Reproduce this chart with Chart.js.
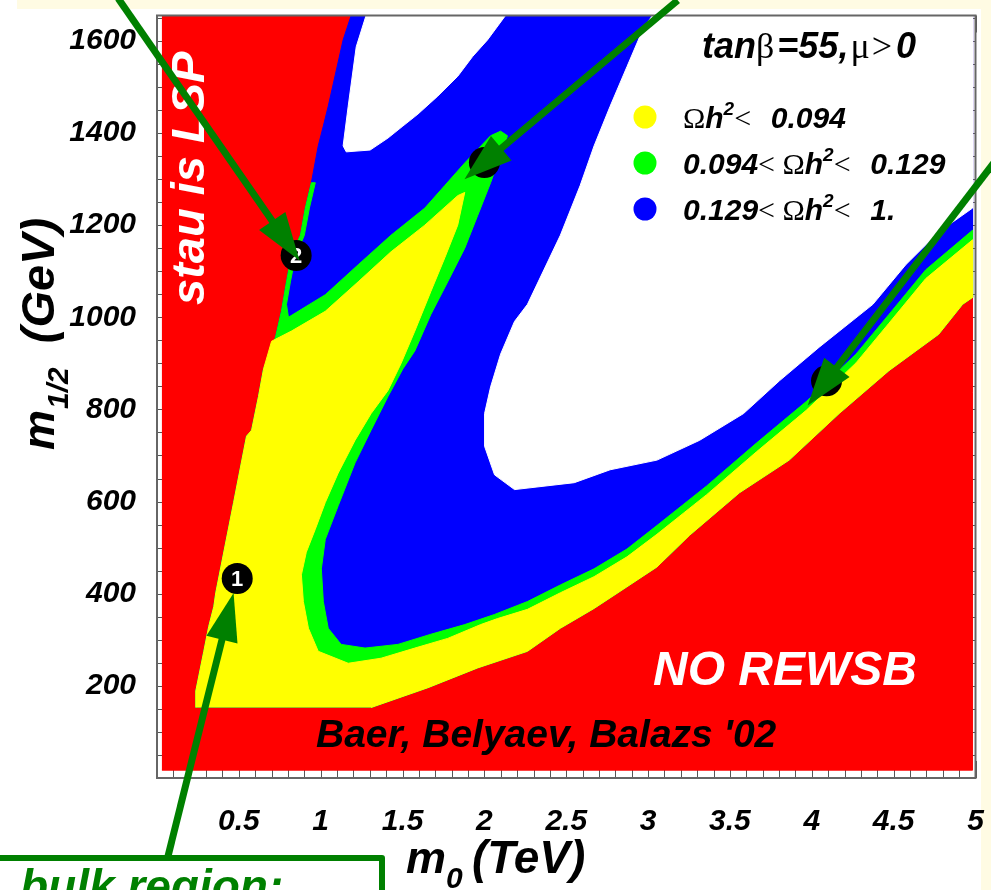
<!DOCTYPE html>
<html>
<head>
<meta charset="utf-8">
<script src="https://cdn.jsdelivr.net/npm/chart.js@4.4.1/dist/chart.umd.min.js"></script>
<style>
  html, body { margin: 0; padding: 0; background: #ffffff; }
  #wrap { width: 991px; height: 890px; position: relative; }
  canvas { display: block; }
</style>
</head>
<body>
<div id="wrap"><canvas id="chart" width="991" height="890"></canvas></div>
<script>
// ---- axes -------------------------------------------------------------
const m0Range = [0, 5];          // TeV
const m12Range = [0, 1655];      // GeV
const m0Ticks = [0.5, 1, 1.5, 2, 2.5, 3, 3.5, 4, 4.5, 5];
const m0TickLabels = ['0.5', '1', '1.5', '2', '2.5', '3', '3.5', '4', '4.5', '5'];
const m12Ticks = [200, 400, 600, 800, 1000, 1200, 1400, 1600];
const m12TickLabels = ['200', '400', '600', '800', '1000', '1200', '1400', '1600'];
const m0MinorStep = 0.1;
const m12MinorStep = 50;

// ---- scanned plane (excluded points shown red) ------------------------
const scanM0 = [0.03, 4.982];
const scanM12 = [17, 1655];

// stau-LSP boundary, bottom to top  [m0 (TeV), m1/2 (GeV)]
const stauEdge = [
  [0.237, 153], [0.237, 189], [0.286, 275], [0.316, 329], [0.347, 372], [0.359, 402],
  [0.468, 598], [0.547, 742], [0.578, 755], [0.620, 828], [0.651, 888], [0.724, 957],
  [0.760, 1013], [0.791, 1077], [0.821, 1135], [0.876, 1178], [0.906, 1237], [0.943, 1292],
  [0.985, 1372], [1.016, 1415], [1.046, 1458], [1.137, 1602], [1.186, 1655]
];

// no-REWSB boundary, from the right edge down to the bottom-left
const rewsbEdge = [
  [4.982, 1043], [4.921, 1028], [4.775, 963], [4.471, 884], [4.167, 791], [3.862, 690],
  [3.558, 619], [3.254, 527], [3.054, 458], [2.871, 415], [2.670, 368], [2.464, 325],
  [2.263, 275], [1.959, 239], [1.655, 196], [1.308, 153]
];

// Omega h^2 > 1 : narrow wedge near the top
const overOneWedge = [
  [1.277, 1655], [1.217, 1587], [1.168, 1458], [1.137, 1372], [1.156, 1359], [1.302, 1363],
  [1.411, 1389], [1.502, 1415], [1.594, 1441], [1.715, 1480], [1.837, 1523], [1.928, 1566],
  [2.019, 1602], [2.129, 1655]
];

// Omega h^2 > 1 : large region
const overOneMain = [
  [3.023, 1655], [4.982, 1655], [4.982, 1237], [4.775, 1185], [4.574, 1114], [4.373, 1028],
  [4.045, 935], [3.802, 862], [3.583, 791], [3.315, 733], [3.054, 690], [2.768, 669],
  [2.549, 641], [2.184, 626], [2.062, 658], [2.001, 720], [2.001, 791], [2.038, 849],
  [2.099, 920], [2.184, 991], [2.263, 1028], [2.464, 1178], [2.585, 1286], [2.670, 1372],
  [2.768, 1458], [2.871, 1544], [2.974, 1630]
];

// Omega h^2 = 0.129 contour (after a thin strip along the stau edge)
const contour129 = [
  [0.967, 1292], [0.931, 1237], [0.900, 1178], [0.845, 1131], [0.815, 1077], [0.791, 1028],
  [0.803, 1000], [1.028, 1049], [1.229, 1114], [1.429, 1178], [1.636, 1237], [1.758, 1286],
  [1.880, 1335], [2.038, 1394], [2.099, 1404], [2.141, 1394], [2.038, 1292], [1.959, 1221],
  [1.880, 1150], [1.776, 1077], [1.673, 1006], [1.575, 927], [1.502, 888], [1.411, 828],
  [1.308, 755], [1.210, 684], [1.107, 591], [1.028, 518], [1.004, 454], [1.016, 383],
  [1.046, 325], [1.125, 290], [1.271, 282], [1.472, 290], [1.673, 312], [1.880, 333],
  [2.062, 355], [2.263, 383], [2.464, 419], [2.670, 454], [2.871, 497], [3.054, 548],
  [3.358, 634], [3.662, 727], [3.966, 817], [4.270, 920], [4.471, 1006], [4.696, 1103],
  [4.982, 1189]
];

// Omega h^2 = 0.094 contour
const contour094 = [
  [0.700, 948], [0.821, 970], [1.028, 1013], [1.229, 1077], [1.429, 1142], [1.636, 1200],
  [1.837, 1264], [1.880, 1271], [1.837, 1200], [1.758, 1129], [1.673, 1056], [1.575, 970],
  [1.490, 899], [1.411, 841], [1.308, 791], [1.210, 733], [1.107, 662], [1.028, 598],
  [0.967, 540], [0.912, 490], [0.882, 441], [0.894, 383], [0.925, 325], [0.985, 275],
  [1.168, 249], [1.369, 260], [1.575, 282], [1.776, 303], [1.977, 333], [2.080, 346],
  [2.263, 366], [2.464, 402], [2.670, 437], [2.871, 480], [3.054, 529], [3.358, 615],
  [3.662, 708], [3.966, 798], [4.270, 901], [4.471, 987], [4.696, 1084], [4.982, 1168]
];

// benchmark points
const benchM0 = [0.49, 0.85, 2.0, 4.09];
const benchM12 = [433, 1134, 1336, 862];
const benchLabels = ['1', '2', '3', '4'];

// region legend
const legendColors = ['#ffff00', '#00ff00', '#0000ff'];
const legendLow = [null, '0.094', '0.129'];
const legendHigh = ['0.094', '0.129', '1.'];

// pointer arrows: tail in (m0, m1/2), aimed at a benchmark point
const arrowTails = [[0.067, -170], [-0.237, 1692], [3.181, 1688], [5.189, 1371]];
const arrowTargets = [0, 1, 2, 3];

// ---- styling ----------------------------------------------------------
const SANS = '"Liberation Sans", Arial, Helvetica, sans-serif';
const SERIF = '"Liberation Serif", "DejaVu Serif", serif';
const ARROW_GREEN = 'rgb(0,128,0)';
const CREAM = '#fffbe3';
const arrowOvershoot = [-15, 6, 26, 31];

function pts(list) { return list.map(p => ({ x: p[0], y: p[1] })); }
function region(label, list, color, order) {
  return {
    label, data: pts(list), showLine: true, fill: 'shape',
    backgroundColor: color, borderColor: color, borderWidth: 1,
    pointRadius: 0, pointHoverRadius: 0, tension: 0, order
  };
}

const redPoly = [[scanM0[0], scanM12[0]], [scanM0[1], scanM12[0]], [scanM0[1], scanM12[1]], [scanM0[0], scanM12[1]]];
const bluePoly = [...stauEdge, [scanM0[1], scanM12[1]], ...rewsbEdge];
const greenPoly = [...stauEdge.filter(p => p[1] <= 1292), ...contour129, ...rewsbEdge];
const yellowPoly = [...stauEdge.filter(p => p[1] <= 890), ...contour094, ...rewsbEdge];

// mixed-font text: parts = [{t, r (upright symbol font), sup, gap}]
function rich(ctx, x, y, parts, size) {
  let cx = x;
  for (const p of parts) {
    const s = p.sup ? Math.round(size * 0.62) : size;
    ctx.font = p.r ? `${s}px ${SERIF}` : `italic bold ${s}px ${SANS}`;
    ctx.fillText(p.t, cx, y + (p.sup ? -size * 0.42 : 0));
    cx += ctx.measureText(p.t).width + (p.gap || 0);
  }
  return cx;
}

const background = {
  id: 'background',
  beforeDraw(chart) {
    const ctx = chart.ctx;
    ctx.save();
    ctx.fillStyle = '#ffffff';
    ctx.fillRect(0, 0, chart.width, chart.height);
    ctx.fillStyle = CREAM;
    ctx.fillRect(17, 0, chart.width - 17, 9);
    ctx.fillRect(981, 0, chart.width - 981, chart.height);
    ctx.restore();
  }
};

// inward tick marks on all four sides (the regions are painted over them)
const frameTicks = {
  id: 'frameTicks',
  beforeDatasetsDraw(chart) {
    const { ctx, chartArea: a, scales: { x, y } } = chart;
    ctx.save();
    ctx.strokeStyle = '#555';
    ctx.lineWidth = 1;
    ctx.beginPath();
    const nx = Math.round((m0Range[1] - m0Range[0]) / m0MinorStep);
    for (let i = 0; i <= nx; i++) {
      const v = m0Range[0] + i * m0MinorStep;
      const major = i % 5 === 0;
      const px = Math.round(x.getPixelForValue(v)) + 0.5;
      const len = major ? 17 : 8;
      ctx.moveTo(px, a.top); ctx.lineTo(px, a.top + len);
      ctx.moveTo(px, a.bottom); ctx.lineTo(px, a.bottom - len);
    }
    const ny = Math.floor((m12Range[1] - m12Range[0]) / m12MinorStep);
    for (let i = 0; i <= ny; i++) {
      const v = m12Range[0] + i * m12MinorStep;
      const major = i % 4 === 0;
      const py = Math.round(y.getPixelForValue(v)) + 0.5;
      const len = major ? 16 : 8;
      ctx.moveTo(a.left, py); ctx.lineTo(a.left + len, py);
      ctx.moveTo(a.right, py); ctx.lineTo(a.right - len, py);
    }
    ctx.stroke();
    ctx.restore();
  }
};

const annotations = {
  id: 'annotations',
  afterDatasetsDraw(chart) {
    const { ctx, chartArea: a } = chart;
    ctx.save();
    // frame
    ctx.strokeStyle = '#666';
    ctx.lineWidth = 2;
    ctx.strokeRect(a.left, a.top, a.right - a.left, a.bottom - a.top);

    // numbers on the benchmark markers
    const meta = chart.getDatasetMeta(chart.data.datasets.length - 1);
    ctx.fillStyle = '#fff';
    ctx.textAlign = 'center';
    ctx.textBaseline = 'middle';
    ctx.font = `bold 22px ${SANS}`;
    meta.data.forEach((pt, i) => ctx.fillText(benchLabels[i], pt.x, pt.y + 1));

    ctx.textAlign = 'left';
    ctx.textBaseline = 'alphabetic';
    ctx.fillStyle = '#000';
    // tan(beta), mu
    rich(ctx, 702, 58, [
      { t: 'tan' }, { t: 'β', r: 1, gap: 3 }, { t: '=55,', gap: 2 },
      { t: 'μ', r: 1, gap: 2 }, { t: '>', r: 1, gap: 4 }, { t: '0' }
    ], 36);

    // legend
    const rows = [117, 163, 209];
    rows.forEach((ry, i) => {
      ctx.fillStyle = legendColors[i];
      ctx.beginPath();
      ctx.arc(645, ry, 11.5, 0, Math.PI * 2);
      ctx.fill();
      ctx.fillStyle = '#000';
      const parts = [];
      if (legendLow[i]) parts.push({ t: legendLow[i] }, { t: '<', r: 1 }, { t: ' Ω', r: 1 });
      else parts.push({ t: 'Ω', r: 1 });
      parts.push({ t: 'h' }, { t: '2', sup: 1 }, { t: '<', r: 1, gap: 3 }, { t: '  ' + legendHigh[i] });
      rich(ctx, 683, ry + 11, parts, 30);
    });

    // region labels
    ctx.fillStyle = '#fff';
    ctx.font = `italic bold 47px ${SANS}`;
    ctx.save();
    ctx.translate(204, 305);
    ctx.rotate(-Math.PI / 2);
    ctx.fillText('stau is LSP', 0, 0);
    ctx.restore();
    ctx.font = `italic bold 48px ${SANS}`;
    ctx.fillText('NO REWSB', 653, 685);
    ctx.fillStyle = '#000';
    ctx.font = `italic bold 39px ${SANS}`;
    ctx.fillText("Baer, Belyaev, Balazs '02", 316, 747);

    // axis titles
    ctx.font = `italic bold 45px ${SANS}`;
    ctx.fillText('m', 406, 873);
    let w = ctx.measureText('m').width;
    ctx.font = `italic bold 30px ${SANS}`;
    ctx.fillText('0', 406 + w, 888);
    ctx.font = `italic bold 46px ${SANS}`;
    ctx.fillText('(TeV)', 472, 873);

    ctx.save();
    ctx.translate(54, 450);
    ctx.rotate(-Math.PI / 2);
    ctx.font = `italic bold 45px ${SANS}`;
    ctx.fillText('m', 0, 0);
    w = ctx.measureText('m').width;
    ctx.font = `italic bold 30px ${SANS}`;
    ctx.fillText('1/2', w + 1, 14);
    const w2 = ctx.measureText('1/2').width;
    ctx.font = `italic bold 47px ${SANS}`;
    ctx.fillText(' (GeV)', w + w2 + 12, 0);
    ctx.restore();
    ctx.restore();
  },
  afterDraw(chart) {
    const { ctx, scales: { x, y } } = chart;
    ctx.save();
    ctx.fillStyle = ARROW_GREEN;
    ctx.strokeStyle = ARROW_GREEN;
    arrowTails.forEach((tail, i) => {
      const k = arrowTargets[i];
      const x0 = x.getPixelForValue(tail[0]), y0 = y.getPixelForValue(tail[1]);
      const cx = x.getPixelForValue(benchM0[k]), cy = y.getPixelForValue(benchM12[k]);
      const L = Math.hypot(cx - x0, cy - y0);
      const ux = (cx - x0) / L, uy = (cy - y0) / L;
      const x1 = cx + ux * arrowOvershoot[i], y1 = cy + uy * arrowOvershoot[i];
      const hl = 48, hw = 16;
      const bx = x1 - ux * hl, by = y1 - uy * hl;
      ctx.lineWidth = 7;
      ctx.beginPath();
      ctx.moveTo(x0, y0);
      ctx.lineTo(bx + ux * 4, by + uy * 4);
      ctx.stroke();
      ctx.beginPath();
      ctx.moveTo(x1, y1);
      ctx.lineTo(bx - uy * hw, by + ux * hw);
      ctx.lineTo(bx + uy * hw, by - ux * hw);
      ctx.closePath();
      ctx.fill();
    });
    // caption box
    ctx.lineWidth = 6;
    ctx.lineJoin = 'round';
    ctx.beginPath();
    ctx.moveTo(-10, 858);
    ctx.lineTo(382, 858);
    ctx.lineTo(382, 900);
    ctx.stroke();
    ctx.font = `italic bold 46px ${SANS}`;
    ctx.fillText('bulk region:', 20, 902);
    ctx.restore();
  }
};

const tickFont = { family: SANS, size: 30, style: 'italic', weight: 'bold' };

new Chart(document.getElementById('chart'), {
  type: 'scatter',
  data: {
    datasets: [
      region('Ωh² < 0.094', yellowPoly, '#ffff00', 1),
      region('0.094 < Ωh² < 0.129', greenPoly, '#00ff00', 2),
      region('Ωh² > 1', overOneMain, '#ffffff', 3),
      region('Ωh² > 1 (wedge)', overOneWedge, '#ffffff', 4),
      region('0.129 < Ωh² < 1', bluePoly, '#0000ff', 5),
      region('excluded', redPoly, '#ff0000', 6),
      {
        label: 'benchmarks',
        data: benchM0.map((m0, i) => ({ x: m0, y: benchM12[i] })),
        showLine: false, pointRadius: 15.5, pointHoverRadius: 15.5,
        pointBackgroundColor: '#000', pointBorderColor: '#000', pointBorderWidth: 0,
        order: 0
      }
    ]
  },
  options: {
    responsive: false,
    animation: false,
    devicePixelRatio: 1,
    events: [],
    layout: { padding: { top: 10, right: 12, left: 0, bottom: 0 } },
    plugins: { legend: { display: false }, tooltip: { enabled: false } },
    scales: {
      x: {
        type: 'linear', position: 'bottom', min: m0Range[0], max: m0Range[1],
        afterBuildTicks: s => { s.ticks = m0Ticks.map(v => ({ value: v })); },
        afterFit: s => { s.height = 112; s.paddingLeft = 0; s.paddingRight = 0; s.paddingTop = 0; s.paddingBottom = 0; },
        ticks: {
          callback: v => m0TickLabels[m0Ticks.indexOf(v)],
          font: tickFont, color: '#000', padding: 26, maxRotation: 0, autoSkip: false
        },
        grid: { display: false, drawTicks: false },
        border: { display: false }
      },
      y: {
        type: 'linear', position: 'left', min: m12Range[0], max: m12Range[1],
        afterBuildTicks: s => { s.ticks = m12Ticks.map(v => ({ value: v })); },
        afterFit: s => { s.width = 157; s.paddingLeft = 0; s.paddingRight = 0; s.paddingTop = 0; s.paddingBottom = 0; },
        ticks: {
          callback: v => m12TickLabels[m12Ticks.indexOf(v)],
          font: tickFont, color: '#000', padding: 21, autoSkip: false
        },
        grid: { display: false, drawTicks: false },
        border: { display: false }
      }
    }
  },
  plugins: [background, frameTicks, annotations]
});
</script>
</body>
</html>
